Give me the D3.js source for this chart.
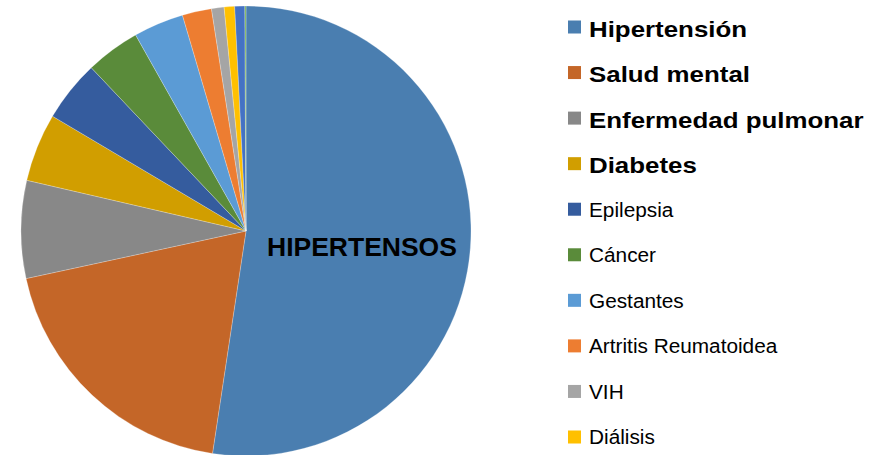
<!DOCTYPE html>
<html><head><meta charset="utf-8">
<script src="https://cdn.jsdelivr.net/npm/d3@7/dist/d3.min.js"></script>
<style>body{margin:0;background:#fff;}svg{display:block;font-family:"Liberation Sans",Arial,sans-serif;}</style>
</head><body>
<svg id="c" width="887" height="455"></svg>
<script>
const categories = ["Hipertensión","Salud mental","Enfermedad pulmonar","Diabetes","Epilepsia","Cáncer","Gestantes","Artritis Reumatoidea","VIH","Diálisis","Otros","Otros 2"];
const values = [52.3,19.2,7.0,4.9,4.4,3.9,3.6,2.1,0.9,0.75,0.72,0.08];
const colors = ["#4a7eb0","#c46628","#888888","#d19e00","#355c9e","#5a8b3a","#5b9bd5","#ed7d31","#a5a5a5","#ffc000","#4472c4","#70ad47"];
const boldLegend = [true,true,true,true,false,false,false,false,false,false];
const legendCount = 10;
const centerLabel = "HIPERTENSOS";

const svg = d3.select("#c");
const cx = 246, cy = 231, r = 225;
const pie = d3.pie().sort(null).value(d => d.v);
const arc = d3.arc().innerRadius(0).outerRadius(r);
const data = categories.map((c,i)=>({c, v: values[i], col: colors[i]}));
const g = svg.append("g").attr("transform",`translate(${cx},${cy})`);
g.selectAll("path").data(pie(data)).join("path")
  .attr("d", arc).attr("fill", d=>d.data.col)
  .attr("stroke","#ffffff").attr("stroke-width",0.4).attr("stroke-opacity",0.6);

svg.append("text").attr("transform","translate(267,255.5) scale(1.06,1)")
  .attr("font-size",25).attr("font-weight","bold").attr("fill","#000").text(centerLabel);

const ly = d3.scaleLinear().domain([0, legendCount-1]).range([27, 437]);
const lg = svg.append("g");
data.slice(0, legendCount).forEach((d,i)=>{
  const y = ly(i);
  lg.append("rect").attr("x",568).attr("y",y-6.5).attr("width",13).attr("height",13).attr("fill",d.col);
  if (boldLegend[i]) {
    lg.append("text").attr("transform",`translate(589,${y+9.5}) scale(1.15,1)`)
      .attr("font-size",22.5).attr("font-weight","bold").attr("fill","#000").text(d.c);
  } else {
    lg.append("text").attr("transform",`translate(589,${y+7.3}) scale(1.04,1)`)
      .attr("font-size",20).attr("fill","#000").text(d.c);
  }
});
</script>
</body></html>
